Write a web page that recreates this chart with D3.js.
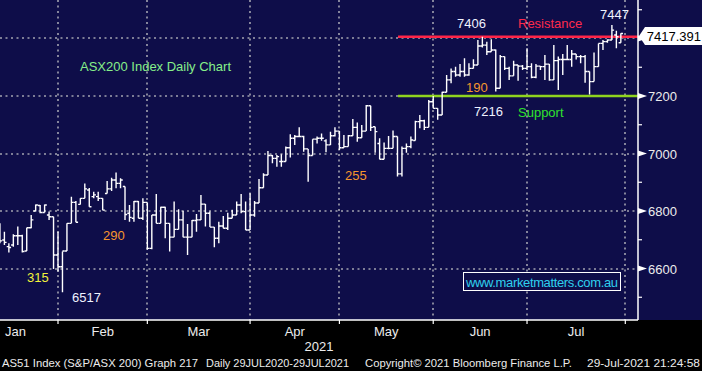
<!DOCTYPE html>
<html>
<head>
<meta charset="utf-8">
<script src="https://cdn.jsdelivr.net/npm/d3@7"></script>
<style>
  html, body { margin: 0; padding: 0; background: #000; }
  svg { display: block; font-family: "Liberation Sans", Arial, sans-serif; }
</style>
</head>
<body>
<svg id="chart"></svg>
<script>
// trading-day calendar (index 0 = 4 Jan 2021)
const months = ['Jan', 'Feb', 'Mar', 'Apr', 'May', 'Jun', 'Jul', 'Aug'];
const monthStart = [0, 19, 39, 62, 82, 103, 124, 146];
const firstDay = 5; // first bar shown = 11 Jan 2021, last = 29 Jul 2021

// daily OHLC
const open = [
  6740, 6699, 6676, 6682, 6714, 6714, 6661, 6742, 6800, 6819,
  6795, 6786, 6780, 6647, 6606, 6661, 6757, 6830, 6823, 6844,
  6873, 6850, 6850, 6844, 6861, 6877, 6908, 6896, 6885, 6792,
  6775, 6833, 6775, 6830, 6670, 6786, 6757, 6813, 6757, 6709,
  6736, 6769, 6709, 6709, 6767, 6769, 6824, 6792, 6744, 6705,
  6748, 6740, 6775, 6786, 6821, 6798, 6734, 6786, 6828, 6881,
  6925, 6993, 6983, 6972, 6972, 7020, 7053, 7059, 7059, 7016,
  6993, 7050, 7053, 7044, 7030, 7062, 7078, 7020, 7024, 7062,
  7091, 7055, 7078, 7166, 7093, 7035, 6980, 7018, 7018, 7059,
  6929, 7018, 7024, 7045, 7111, 7114, 7091, 7180, 7157, 7134,
  7213, 7256, 7285, 7273, 7285, 7273, 7296, 7308, 7374, 7377,
  7354, 7360, 7227, 7337, 7296, 7270, 7308, 7304, 7296, 7302,
  7265, 7304, 7302, 7311, 7256, 7323, 7327, 7327, 7327, 7346,
  7337, 7337, 7285, 7250, 7302, 7383, 7389, 7395, 7412, 7385
];
const high = [
  6757, 6728, 6688, 6719, 6746, 6717, 6742, 6786, 6823, 6821,
  6823, 6798, 6780, 6728, 6659, 6757, 6850, 6835, 6844, 6896,
  6880, 6867, 6867, 6844, 6904, 6916, 6934, 6914, 6885, 6821,
  6835, 6835, 6844, 6830, 6786, 6859, 6815, 6815, 6757, 6833,
  6806, 6801, 6755, 6769, 6790, 6856, 6824, 6798, 6744, 6763,
  6783, 6794, 6804, 6833, 6859, 6833, 6862, 6835, 6911, 6931,
  7009, 6995, 6995, 6997, 7024, 7067, 7064, 7091, 7062, 7016,
  7050, 7059, 7070, 7050, 7076, 7091, 7078, 7064, 7064, 7120,
  7108, 7099, 7169, 7166, 7093, 7053, 7038, 7061, 7080, 7059,
  7024, 7035, 7059, 7114, 7134, 7117, 7186, 7200, 7157, 7215,
  7273, 7296, 7302, 7311, 7331, 7314, 7328, 7395, 7406, 7389,
  7397, 7362, 7343, 7337, 7302, 7323, 7308, 7308, 7366, 7314,
  7311, 7304, 7343, 7311, 7377, 7337, 7346, 7377, 7360, 7346,
  7343, 7343, 7285, 7351, 7383, 7395, 7397, 7447, 7427, 7418
];
const low = [
  6688, 6682, 6656, 6676, 6682, 6656, 6661, 6740, 6798, 6792,
  6795, 6769, 6598, 6589, 6517, 6661, 6757, 6761, 6823, 6844,
  6815, 6844, 6835, 6803, 6861, 6870, 6879, 6879, 6769, 6763,
  6763, 6775, 6769, 6665, 6667, 6757, 6757, 6705, 6659, 6709,
  6736, 6709, 6647, 6709, 6728, 6769, 6746, 6744, 6674, 6688,
  6740, 6734, 6775, 6786, 6792, 6734, 6734, 6780, 6828, 6881,
  6925, 6966, 6954, 6954, 6972, 6986, 7030, 7059, 7006, 6902,
  6993, 7035, 7044, 7004, 7030, 7059, 7012, 7020, 7024, 7062,
  7041, 7055, 7078, 7078, 7003, 6980, 6980, 7015, 7018, 6920,
  6920, 7003, 7018, 7045, 7088, 7082, 7091, 7157, 7117, 7134,
  7213, 7244, 7267, 7267, 7267, 7270, 7296, 7308, 7369, 7343,
  7354, 7216, 7227, 7290, 7256, 7270, 7253, 7290, 7290, 7262,
  7262, 7290, 7256, 7253, 7256, 7221, 7273, 7327, 7302, 7327,
  7314, 7246, 7205, 7250, 7302, 7360, 7385, 7395, 7366, 7385
];
const close = [
  6696, 6691, 6673, 6714, 6714, 6659, 6742, 6769, 6821, 6795,
  6821, 6780, 6647, 6606, 6661, 6757, 6830, 6761, 6844, 6877,
  6815, 6856, 6844, 6803, 6877, 6908, 6896, 6908, 6788, 6778,
  6833, 6775, 6830, 6670, 6786, 6757, 6813, 6757, 6709, 6736,
  6769, 6709, 6709, 6767, 6769, 6824, 6792, 6744, 6705, 6748,
  6740, 6775, 6786, 6821, 6798, 6734, 6786, 6828, 6881, 6925,
  6993, 6983, 6989, 6972, 7020, 7053, 7059, 7059, 7016, 6993,
  7050, 7053, 7053, 7030, 7062, 7078, 7020, 7024, 7062, 7091,
  7055, 7078, 7166, 7091, 7076, 6980, 7018, 7018, 7059, 6929,
  7018, 7024, 7047, 7111, 7114, 7091, 7180, 7157, 7134, 7213,
  7256, 7285, 7273, 7285, 7273, 7296, 7308, 7374, 7377, 7354,
  7360, 7227, 7337, 7296, 7270, 7308, 7304, 7296, 7302, 7265,
  7304, 7302, 7311, 7256, 7323, 7327, 7327, 7327, 7346, 7337,
  7337, 7285, 7250, 7302, 7383, 7389, 7395, 7429, 7406, 7417.391
];

const majorTicks = [6600, 6800, 7000, 7200, 7400];
const minorTicks = [6500, 6700, 6900, 7100, 7300, 7500];
const lastPrice = 7417.391;
const resistance = 7406;
const support = 7200;

const W = 702, H = 371;
const plotW = 638, plotH = 320;
const navy = '#0e0d49';

const bars = open.map((o, k) => ({
    day: firstDay + k, o, h: high[k], l: low[k], c: close[k]
}));

const svg = d3.select('#chart')
    .attr('width', W)
    .attr('height', H);

svg.append('rect').attr('width', W).attr('height', H).attr('fill', '#000');
svg.append('rect').attr('width', W).attr('height', plotH).attr('fill', navy);

const x = d3.scaleLinear().domain([0, 145]).range([-22.4, 625.3]);
const y = d3.scaleLinear().domain([6420.9, 7533.9]).range([plotH, 0]);

svg.append('defs').append('clipPath').attr('id', 'plotClip')
    .append('rect').attr('width', plotW).attr('height', plotH);

// grid
const boundaries = monthStart.map(d => x(d - 1));
const grid = svg.append('g')
    .attr('stroke', '#a3a3b0')
    .attr('stroke-width', 1.6)
    .attr('stroke-dasharray', '2,3.5');
grid.selectAll('line.h')
    .data(majorTicks)
    .join('line')
    .attr('x1', 0).attr('x2', plotW)
    .attr('y1', d => Math.round(y(d))).attr('y2', d => Math.round(y(d)));
grid.selectAll('line.v')
    .data(boundaries.filter(b => b > 0 && b < plotW))
    .join('line')
    .attr('x1', d => Math.round(d)).attr('x2', d => Math.round(d))
    .attr('y1', 0).attr('y2', plotH);

// support / resistance
svg.append('line')
    .attr('x1', 398).attr('x2', plotW)
    .attr('y1', y(resistance)).attr('y2', y(resistance))
    .attr('stroke', '#ff2548').attr('stroke-width', 2.6);
svg.append('line')
    .attr('x1', 398).attr('x2', plotW)
    .attr('y1', y(support)).attr('y2', y(support))
    .attr('stroke', '#8fd31f').attr('stroke-width', 2.4);

// OHLC bars
const tick = 2.2;
const barG = svg.append('g')
    .attr('clip-path', 'url(#plotClip)')
    .attr('stroke', '#ffffff')
    .attr('stroke-width', 1.4)
    .attr('fill', 'none');
barG.selectAll('path')
    .data(bars)
    .join('path')
    .attr('d', d => {
        const cx = x(d.day);
        return `M${cx},${y(d.h)}V${y(d.l)}` +
            `M${cx - tick},${y(d.o)}H${cx}` +
            `M${cx},${y(d.c)}H${cx + tick}`;
    });

// axes lines
svg.append('line').attr('x1', 0).attr('x2', plotW).attr('y1', plotH).attr('y2', plotH)
    .attr('stroke', '#fff').attr('stroke-width', 1.5);
svg.append('line').attr('x1', plotW).attr('x2', plotW).attr('y1', 0).attr('y2', plotH)
    .attr('stroke', '#fff').attr('stroke-width', 1.5);

// x ticks and month labels
svg.selectAll('line.xt')
    .data(boundaries.filter(b => b > 0 && b < plotW))
    .join('line')
    .attr('x1', d => d).attr('x2', d => d)
    .attr('y1', plotH).attr('y2', plotH + 4)
    .attr('stroke', '#fff').attr('stroke-width', 1.2);
svg.selectAll('text.month')
    .data(months.slice(0, 7))
    .join('text')
    .attr('x', (d, i) => (boundaries[i] + boundaries[i + 1]) / 2)
    .attr('y', 336)
    .attr('text-anchor', 'middle')
    .attr('fill', '#ececec')
    .attr('font-size', 13)
    .text(d => d);
svg.append('text')
    .attr('x', 319).attr('y', 351)
    .attr('text-anchor', 'middle')
    .attr('fill', '#ececec')
    .attr('font-size', 13)
    .text('2021');

// right axis
const yAxis = svg.append('g');
yAxis.selectAll('line.minor')
    .data(minorTicks)
    .join('line')
    .attr('x1', plotW).attr('x2', plotW + 4)
    .attr('y1', d => y(d)).attr('y2', d => y(d))
    .attr('stroke', '#fff').attr('stroke-width', 1.2);
yAxis.selectAll('path.arrow')
    .data(majorTicks)
    .join('path')
    .attr('d', d => `M${plotW},${y(d) - 3}L${plotW + 9},${y(d)}L${plotW},${y(d) + 3}Z`)
    .attr('fill', '#fff');
yAxis.selectAll('text')
    .data(majorTicks)
    .join('text')
    .attr('x', 648)
    .attr('y', d => y(d) + 5)
    .attr('fill', '#ececec')
    .attr('font-size', 13)
    .text(d => d);

// last price flag
const ly = y(lastPrice) + 2.5;
svg.append('path')
    .attr('d', `M${plotW + 1},${ly}L${plotW + 7},${ly - 9}H${W}V${ly + 9}H${plotW + 7}Z`)
    .attr('fill', '#fff');
svg.append('text')
    .attr('x', 701).attr('y', ly + 5)
    .attr('text-anchor', 'end')
    .attr('fill', '#000')
    .attr('font-size', 13)
    .text(lastPrice.toFixed(3));

// annotations
const notes = [
    { text: 'ASX200 Index Daily Chart', x: 80, y: 71, color: '#86ef8a' },
    { text: 'Resistance', x: 518, y: 28, color: '#ff2a4c' },
    { text: 'Support', x: 518, y: 117, color: '#2ee22e' },
    { text: '7406', x: 457, y: 28, color: '#eef2ff' },
    { text: '7447', x: 600, y: 19, color: '#eef2ff' },
    { text: '7216', x: 474, y: 116, color: '#eef2ff' },
    { text: '6517', x: 72, y: 302, color: '#eef2ff' },
    { text: '190', x: 466, y: 92, color: '#f5962e' },
    { text: '255', x: 345, y: 180, color: '#f5962e' },
    { text: '290', x: 103, y: 240, color: '#f5962e' },
    { text: '315', x: 27, y: 282, color: '#f2f23a' }
];
svg.selectAll('text.note')
    .data(notes)
    .join('text')
    .attr('x', d => d.x).attr('y', d => d.y)
    .attr('fill', d => d.color)
    .attr('font-size', 13)
    .text(d => d.text);

// watermark
svg.append('rect')
    .attr('x', 463.5).attr('y', 272.5).attr('width', 157).attr('height', 18)
    .attr('fill', navy).attr('stroke', '#fff').attr('stroke-width', 1);
svg.append('text')
    .attr('x', 542).attr('y', 287)
    .attr('text-anchor', 'middle')
    .attr('fill', '#2fd0ee')
    .attr('font-size', 13)
    .attr('textLength', 152)
    .text('www.marketmatters.com.au');

// footer
const footer = [
    { text: 'AS51 Index (S&P/ASX 200) Graph 217', x: 2, w: 196 },
    { text: 'Daily 29JUL2020-29JUL2021', x: 206, w: 143 },
    { text: 'Copyright\u00a9 2021 Bloomberg Finance L.P.', x: 365, w: 207 },
    { text: '29-Jul-2021 21:24:58', x: 587, w: 113 }
];
svg.selectAll('text.foot')
    .data(footer)
    .join('text')
    .attr('x', d => d.x).attr('y', 367)
    .attr('fill', '#ececec')
    .attr('font-size', 11.5)
    .attr('textLength', d => d.w)
    .attr('lengthAdjust', 'spacingAndGlyphs')
    .text(d => d.text);
</script>
</body>
</html>
